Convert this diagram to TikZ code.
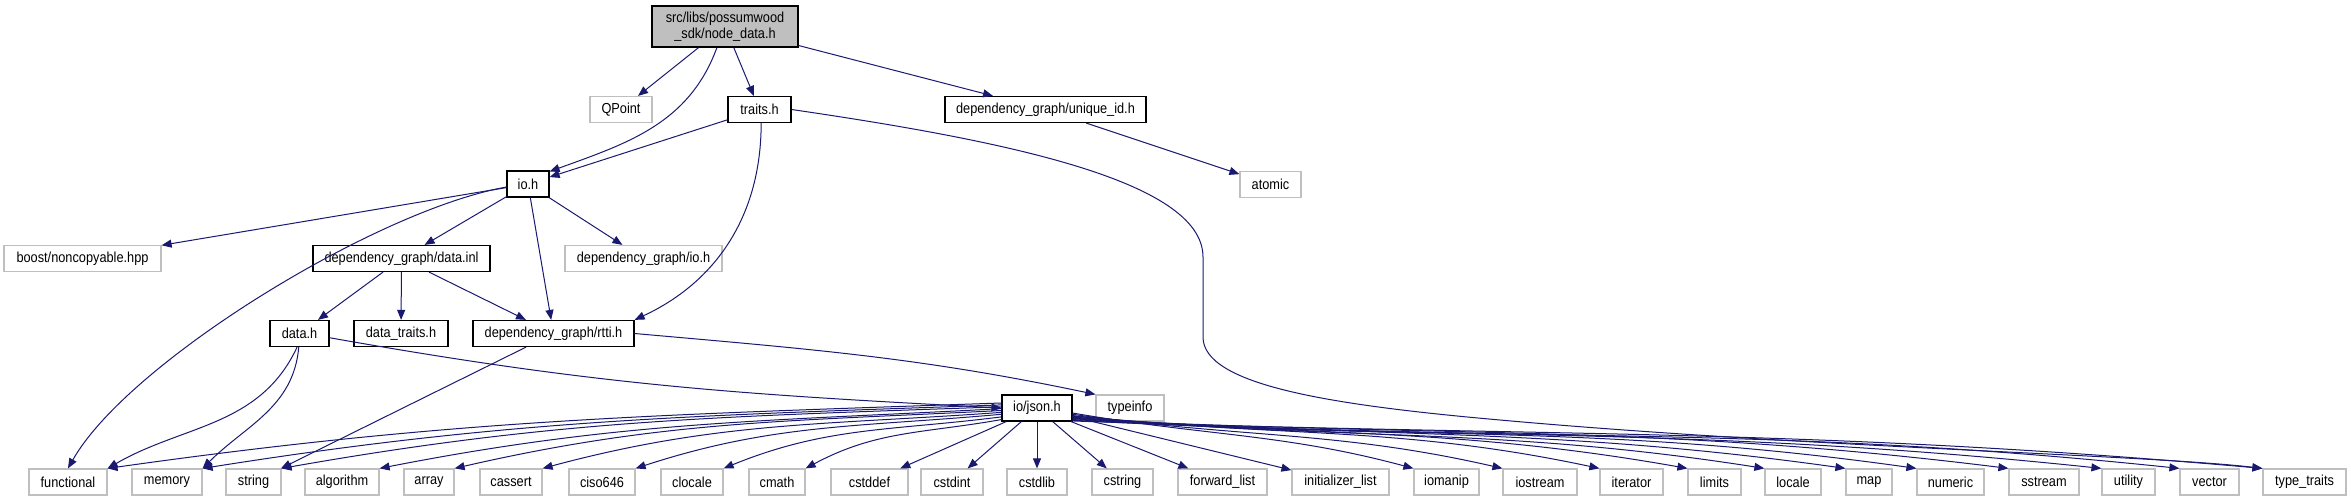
\documentclass[tikz,border=0pt]{standalone}
\usepackage{fontspec}
\setmainfont[FakeStretch=0.88]{Liberation Sans}
\usetikzlibrary{arrows.meta}
\definecolor{edgeblue}{HTML}{191970}
\definecolor{extgray}{HTML}{BFBFBF}
\begin{document}
\begin{tikzpicture}[x=1pt,y=1pt,
  docbox/.style={draw=black, line width=1.2pt, minimum height=26pt, inner sep=0pt, fill=white, font=\fontsize{14.5}{16}\selectfont},
  extbox/.style={docbox, draw=extgray},
  conn/.style={draw=edgeblue, line width=1pt, -{Triangle[length=10pt,width=8pt]}}]
\useasboundingbox (0,0) rectangle (2351,-501);
% nodes
\node[docbox, fill=extgray, minimum width=146pt, minimum height=41pt, align=center] (nd) at (725,-26.5) {src/libs/possumwood\\\_sdk/node\_data.h};
\node[extbox, minimum width=62pt] (qpoint) at (621,-109.5) {QPoint};
\node[docbox, minimum width=63pt] (traits) at (759.5,-109.5) {traits.h};
\node[docbox, minimum width=201pt] (uid) at (1045.5,-109.5) {dependency\_graph/unique\_id.h};
\node[extbox, minimum width=61pt] (atomic) at (1270.5,-184.5) {atomic};
\node[docbox, minimum width=42pt] (ioh) at (528,-184) {io.h};
\node[extbox, minimum width=157pt] (boost) at (82.5,-258.5) {boost/noncopyable.hpp};
\node[docbox, minimum width=177pt] (datainl) at (401.5,-258.5) {dependency\_graph/data.inl};
\node[extbox, minimum width=157pt] (dgio) at (643.5,-258.5) {dependency\_graph/io.h};
\node[docbox, minimum width=59pt] (datah) at (299.5,-333.5) {data.h};
\node[docbox, minimum width=94pt] (dtraits) at (401,-333.5) {data\_traits.h};
\node[docbox, minimum width=161pt] (rtti) at (553.5,-333.5) {dependency\_graph/rtti.h};
\node[docbox, minimum width=70pt] (json) at (1037,-408) {io/json.h};
\node[extbox, minimum width=68pt] (typeinfo) at (1130,-408) {typeinfo};
% bottom row
\node[extbox, minimum width=78pt] (functional) at (68,-482) {functional};
\node[extbox, minimum width=70pt] (memory) at (167,-482) {memory};
\node[extbox, minimum width=55pt] (string) at (253.5,-482) {string};
\node[extbox, minimum width=74pt] (algorithm) at (342,-482) {algorithm};
\node[extbox, minimum width=50pt] (array) at (429,-482) {array};
\node[extbox, minimum width=62pt] (cassert) at (511,-482) {cassert};
\node[extbox, minimum width=66pt] (ciso) at (602,-482) {ciso646};
\node[extbox, minimum width=62pt] (clocale) at (692,-482) {clocale};
\node[extbox, minimum width=56pt] (cmath) at (777,-482) {cmath};
\node[extbox, minimum width=77pt] (cstddef) at (869.5,-482) {cstddef};
\node[extbox, minimum width=62pt] (cstdint) at (952,-482) {cstdint};
\node[extbox, minimum width=60pt] (cstdlib) at (1037,-482) {cstdlib};
\node[extbox, minimum width=61pt] (cstring) at (1122.5,-482) {cstring};
\node[extbox, minimum width=89pt] (fwdlist) at (1222.5,-482) {forward\_list};
\node[extbox, minimum width=97pt] (initlist) at (1340.5,-482) {initializer\_list};
\node[extbox, minimum width=65pt] (iomanip) at (1446.5,-482) {iomanip};
\node[extbox, minimum width=74pt] (iostream) at (1540,-482) {iostream};
\node[extbox, minimum width=63pt] (iterator) at (1631.5,-482) {iterator};
\node[extbox, minimum width=53pt] (limits) at (1714.5,-482) {limits};
\node[extbox, minimum width=56pt] (locale) at (1793,-482) {locale};
\node[extbox, minimum width=46pt] (map) at (1869,-482) {map};
\node[extbox, minimum width=67pt] (numeric) at (1950.5,-482) {numeric};
\node[extbox, minimum width=70pt] (sstream) at (2044,-482) {sstream};
\node[extbox, minimum width=53pt] (utility) at (2128.5,-482) {utility};
\node[extbox, minimum width=59pt] (vector) at (2209.5,-482) {vector};
\node[extbox, minimum width=83pt] (ttraits) at (2304.5,-482) {type\_traits};
% edges from node_data
\draw[conn] (nd) -- (qpoint);
\draw[conn] (nd.-111) to[out=250,in=20] (ioh.30);
\draw[conn] (nd) -- (traits);
\draw[conn] (nd) -- (uid);
\draw[conn] (uid) -- (atomic);
% traits.h
\draw[conn] (traits) -- (ioh);
\draw[conn] (traits.-83) to[out=270,in=25] (rtti.north east);
\draw[conn] (traits.east) .. controls (1000,-140) and (1203,-180) .. (1203,-257) -- (1203,-337)
   .. controls (1203,-385) and (1330,-405) .. (1500,-420)
   .. controls (1800,-447) and (2150,-455) .. (ttraits.north west);
% io.h
\draw[conn] (ioh) -- (boost);
\draw[conn] (ioh.188) .. controls +(-130,-23) and +(60,106) .. (functional.north);
\draw[conn] (ioh) -- (datainl);
\draw[conn] (ioh) -- (rtti);
\draw[conn] (ioh) -- (dgio);
% data.inl
\draw[conn] (datainl) -- (datah);
\draw[conn] (datainl) -- (dtraits);
\draw[conn] (datainl) -- (rtti);
% data.h
\draw[conn] (datah.-100) to[out=245,in=30] (functional.north east);
\draw[conn] (datah.-93) to[out=265,in=45] (memory.north east);
\draw[conn] (datah.-8) .. controls +(265,-47) and +(-270,14) .. (json.west);
% rtti.h
\draw[conn] (rtti.east) .. controls +(180,-16) and +(-176,37) .. (typeinfo.north west);
\draw[conn] (rtti) -- (string);
% io/json.h left fan
\draw[conn] (json.172) .. controls +(-350,-12) and +(347,49) .. (functional.north east);
\draw[conn] (json.175) .. controls +(-313,-11) and +(309,49) .. (memory.north east);
\draw[conn] (json.178) .. controls +(-282,-10) and +(278,49) .. (string.north east);
\draw[conn] (json.181) .. controls +(-244,-13) and +(240,47) .. (algorithm.north east);
\draw[conn] (json.184) .. controls +(-215,-11) and +(209,48) .. (array.north east);
\draw[conn] (json.187) .. controls +(-180,-13) and +(175,47) .. (cassert.north east);
\draw[conn] (json.190) .. controls +(-144,-13) and +(138,45) .. (ciso.north east);
\draw[conn] (json.194) .. controls +(-110,-14) and +(103,42) .. (clocale.north east);
\draw[conn] (json.198) .. controls +(-79,-14) and +(71,38) .. (cmath.north east);
% straight ones
\draw[conn] (json) -- (cstddef);
\draw[conn] (json) -- (cstdint);
\draw[conn] (json) -- (cstdlib);
\draw[conn] (json) -- (cstring);
\draw[conn] (json) -- (fwdlist);
\draw[conn] (json) -- (initlist);
% right fan
\draw[conn] (json.-8) .. controls +(133,-23) and +(-130,35) .. (iomanip.north west);
\draw[conn] (json.-10) .. controls +(168,-24) and +(-166,38) .. (iostream.north west);
\draw[conn] (json.-12) .. controls +(206,-22) and +(-202,43) .. (iterator.north west);
\draw[conn] (json.-13) .. controls +(240,-21) and +(-237,42) .. (limits.north west);
\draw[conn] (json.-14) .. controls +(270,-24) and +(-268,42) .. (locale.north west);
\draw[conn] (json.-15) .. controls +(302,-21) and +(-300,42) .. (map.north west);
\draw[conn] (json.-16) .. controls +(329,-23) and +(-327,46) .. (numeric.north west);
\draw[conn] (json.-17) .. controls +(365,-19) and +(-363,45) .. (sstream.north west);
\draw[conn] (json.-18) .. controls +(401,-21) and +(-400,42) .. (utility.north west);
\draw[conn] (json.-19) .. controls +(431,-23) and +(-430,45) .. (vector.north west);
\draw[conn] (json.-20) .. controls +(465,-16) and +(-463,41) .. (ttraits.north west);
\end{tikzpicture}
\end{document}
